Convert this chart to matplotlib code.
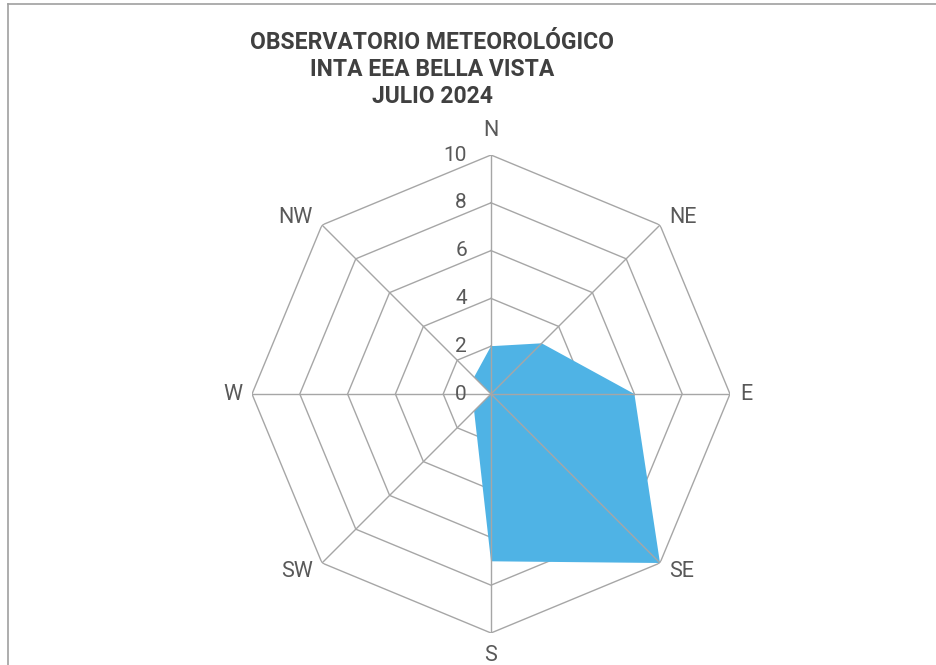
"""
Wind rose (radar) - Observatorio Meteorologico INTA EEA Bella Vista, julio 2024
"""
import numpy as np
import matplotlib
matplotlib.use("Agg")
import matplotlib.pyplot as plt
from matplotlib.lines import Line2D

plt.rcParams['font.family'] = ['Roboto', 'DejaVu Sans']

# data
directions = ['N', 'NE', 'E', 'SE', 'S', 'SW', 'W', 'NW']
frequency = [2.0, 3.0, 6.0, 10.0, 7.0, 1.0, 0.0, 1.0]
rings = [0, 2, 4, 6, 8, 10]
title = 'OBSERVATORIO METEOROLÓGICO\nINTA EEA BELLA VISTA\nJULIO 2024'

W, H = 937, 665
fig = plt.figure(figsize=(W / 100, H / 100), dpi=100)

# centre (491, 394) px, radius 239 px
cx, cy, rad = 491, 394, 239
ax = fig.add_axes([(cx - rad) / W, (H - cy - rad) / H, 2 * rad / W, 2 * rad / H],
                  projection='polar')
ax.set_theta_offset(np.pi / 2)
ax.set_theta_direction(-1)
ax.set_ylim(0, 10)
ax.grid(False)
ax.spines['polar'].set_visible(False)
ax.set_xticks([])
ax.set_yticks([])
ax.patch.set_alpha(0)

angles = np.linspace(0, 2 * np.pi, len(directions), endpoint=False)
closed = np.append(angles, angles[0])

grid_color = '#a6a6a6'
# octagon rings under the fill, spokes over it
for r in rings:
    ax.plot(closed, [r] * len(closed), color=grid_color, lw=1.0, zorder=1)

vals = np.append(frequency, frequency[0])
ax.fill(closed, vals, color='#4fb3e5', lw=0, zorder=2)

for a in angles:
    ax.plot([a, a], [0, rings[-1]], color=grid_color, lw=1.0, zorder=3)

# ring labels along N spoke
for r in rings:
    ax.annotate(str(r), xy=(0, r), xytext=(-24, 0), textcoords='offset pixels',
                ha='right', va='center', fontsize=15, color='#595959', zorder=4)

# direction labels
offsets = {
    'N': ((0, 14), 'center', 'bottom'),
    'NE': ((9, 8), 'left', 'center'),
    'E': ((10, 0), 'left', 'center'),
    'SE': ((9, -9), 'left', 'center'),
    'S': ((0, -12), 'center', 'top'),
    'SW': ((-9, -9), 'right', 'center'),
    'W': ((-10, 0), 'right', 'center'),
    'NW': ((-9, 8), 'right', 'center'),
}
for a, d in zip(angles, directions):
    off, ha, va = offsets[d]
    ax.annotate(d, xy=(a, 10), xytext=off, textcoords='offset pixels',
                ha=ha, va=va, fontsize=15.5, color='#595959')

fig.text(432 / W, 1 - 31 / H, title, ha='center', va='top', fontsize=16.5,
         fontweight='bold', color='#404040', linespacing=1.22)

# chart border
fig.add_artist(Line2D([8 / W, 8 / W], [0, 1 - 4 / H], transform=fig.transFigure,
                      color='#a0a0a0', lw=1.2))
fig.add_artist(Line2D([8 / W, 1], [1 - 4 / H, 1 - 4 / H], transform=fig.transFigure,
                      color='#a0a0a0', lw=1.2))

fig.savefig('out.png', dpi=100, facecolor='white')
